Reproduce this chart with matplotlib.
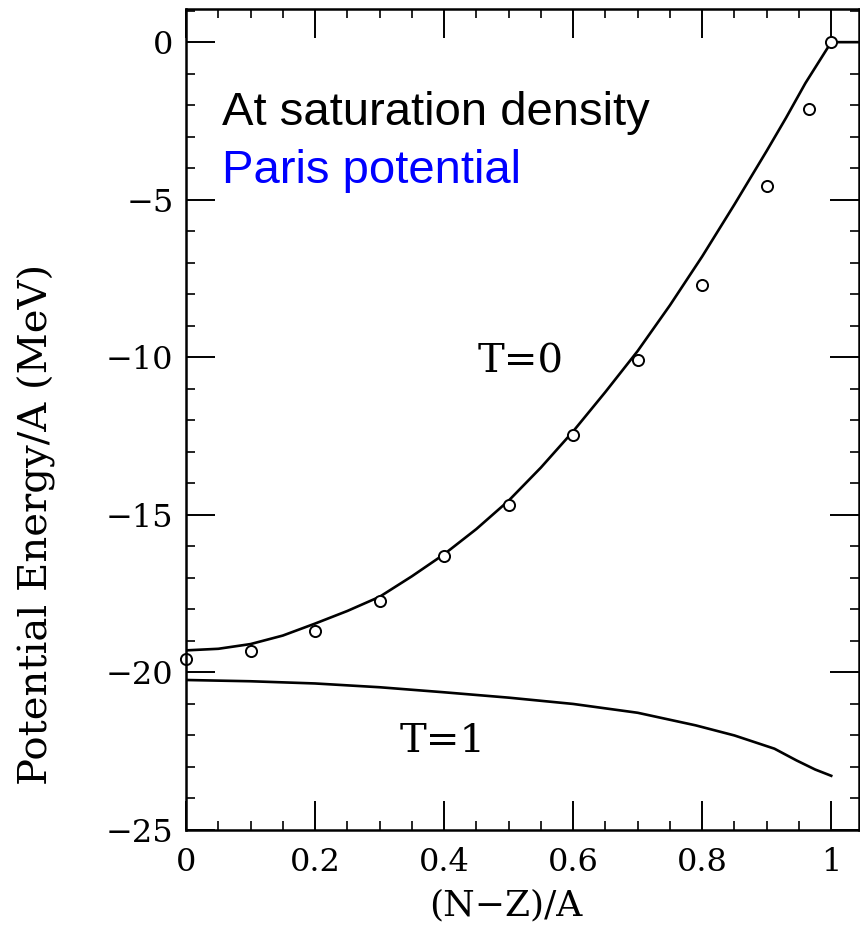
import matplotlib.pyplot as plt
import numpy as np
from matplotlib.ticker import MultipleLocator

# T=0 curve
t0_x = [0.0, 0.05, 0.1, 0.15, 0.2, 0.25, 0.3, 0.35, 0.4, 0.45, 0.5, 0.55, 0.6,
        0.65, 0.7, 0.75, 0.8, 0.85, 0.9, 0.93, 0.96, 1.0, 1.045]
t0_y = [-19.3, -19.25, -19.1, -18.83, -18.45, -18.05, -17.6, -16.95, -16.25, -15.45,
        -14.55, -13.5, -12.35, -11.1, -9.8, -8.35, -6.8, -5.15, -3.45, -2.4, -1.3,
        0.0, 0.0]

# open circles
pts_x = [0.0, 0.1, 0.2, 0.3, 0.4, 0.5, 0.6, 0.7, 0.8, 0.9, 0.965, 1.0]
pts_y = [-19.58, -19.32, -18.68, -17.72, -16.3, -14.7, -12.47, -10.1, -7.7, -4.56,
         -2.12, 0.0]

# T=1 curve
t1_x = [0.0, 0.1, 0.2, 0.3, 0.4, 0.5, 0.6, 0.7, 0.79, 0.85, 0.912, 0.946, 0.975, 1.0]
t1_y = [-20.24, -20.28, -20.35, -20.47, -20.63, -20.8, -21.0, -21.28, -21.68, -22.0,
        -22.42, -22.79, -23.08, -23.28]

serif = 'DejaVu Serif'

fig = plt.figure(figsize=(8.6, 9.35), dpi=100)
ax = fig.add_axes([0.2163, 0.1123, 0.7825, 0.878])

ax.plot(t0_x, t0_y, color='black', lw=1.9)
ax.plot(t1_x, t1_y, color='black', lw=1.9)
ax.plot(pts_x, pts_y, 'o', ms=8, mfc='white', mec='black', mew=1.4, clip_on=False)

ax.set_xlim(0, 1.043)
ax.set_ylim(-25, 1.05)

ax.xaxis.set_minor_locator(MultipleLocator(0.05))
ax.yaxis.set_minor_locator(MultipleLocator(1))
ax.set_xticks([0, 0.2, 0.4, 0.6, 0.8, 1.0])
ax.set_xticklabels(['0', '0.2', '0.4', '0.6', '0.8', '1'])
ax.set_yticks([0, -5, -10, -15, -20, -25])
ax.set_yticklabels(['0', '\u22125', '\u221210', '\u221215', '\u221220', '\u221225'])

ax.tick_params(which='both', direction='in', top=True, right=True, color='black')
ax.tick_params(which='major', length=21, width=1.4)
ax.tick_params(which='minor', length=6.5, width=1.2)
ax.tick_params(axis='x', which='major', pad=12)
ax.tick_params(axis='y', which='major', pad=9)
for lab in ax.get_xticklabels() + ax.get_yticklabels():
    lab.set_fontfamily(serif)
    lab.set_fontsize(23)

for s in ax.spines.values():
    s.set_linewidth(1.8)

ax.set_xlabel('(N\u2212Z)/A', fontfamily=serif, fontsize=26)
ax.xaxis.set_label_coords(0.475, -0.0915)
ax.xaxis.label.set_va('center')
ax.set_ylabel('Potential Energy/A (MeV)', fontfamily=serif, fontsize=29)
ax.yaxis.set_label_coords(-0.222, 0.372)
ax.yaxis.label.set_va('center')

ax.text(0.518, -10.14, 'T=0', fontfamily=serif, fontsize=29, ha='center', va='center')
ax.text(0.398, -22.2, 'T=1', fontfamily=serif, fontsize=29, ha='center', va='center')

ax.text(0.056, -2.62, 'At saturation density', fontfamily='Liberation Sans',
        fontsize=34, color='black', va='baseline')
ax.text(0.056, -4.46, 'Paris potential', fontfamily='Liberation Sans',
        fontsize=34, color='#0000ff', va='baseline')

fig.savefig('out.png', dpi=100)
